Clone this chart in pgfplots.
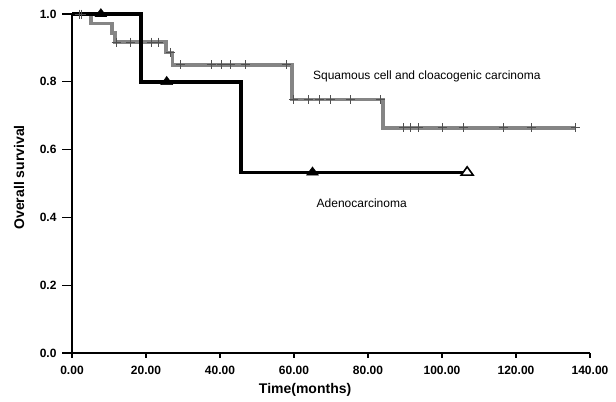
\documentclass[border=0pt]{standalone}
\usepackage{fontspec}
\setmainfont{Liberation Sans}
\usepackage{pgfplots}
\pgfplotsset{compat=1.18}

\definecolor{kmgray}{HTML}{858585}
\definecolor{censgray}{HTML}{505050}

\begin{document}
\begin{tikzpicture}
\begin{axis}[
  scale only axis, width=518pt, height=339pt,
  xmin=0, xmax=140, ymin=0, ymax=1,
  axis lines=left, axis line style={line width=1.3pt,-},
  xtick={0,20,...,140}, ytick={0,0.2,...,1.0},
  tick align=outside, major tick length=10pt,
  tick style={line width=1.3pt,black},
  x tick style={/pgfplots/major tick length=5pt},
  /pgf/number format/assume math mode=true,
  tick label style={font=\fontsize{12}{14}\selectfont\bfseries},
  xticklabel style={/pgf/number format/.cd,fixed,fixed zerofill,precision=2},
  yticklabel style={xshift=-2pt,/pgf/number format/.cd,fixed,fixed zerofill,precision=1},
  xlabel={Time(months)}, ylabel={Overall survival},
  label style={font=\fontsize{14}{16}\selectfont\bfseries},
  xlabel style={at={(axis description cs:0.45,-0.109)},anchor=center},
  ylabel style={at={(axis description cs:-0.1023,0.518)},anchor=center,rotate=0},
  clip=false,
]
% squamous cell and cloacogenic carcinoma
\addplot[const plot, kmgray, line width=3.4pt] coordinates {
  (0,1) (5.1,0.972) (10.8,0.944) (11.6,0.917) (25.4,0.887) (27.2,0.850)
  (59.5,0.747) (84.1,0.664) (136.2,0.664)};
\addplot[only marks, mark=+, mark size=4.5pt, censgray, line width=1pt] coordinates {
  (1.9,1) (2.7,1) (11.9,0.917) (15.7,0.917) (21.5,0.917) (23.5,0.917)
  (26.5,0.887) (29.4,0.850) (37.7,0.850) (40.3,0.850) (42.9,0.850) (46.8,0.850)
  (58.0,0.850) (59.8,0.747) (63.9,0.747) (66.8,0.747) (69.9,0.747) (75.4,0.747)
  (83.5,0.747) (89.7,0.664) (91.4,0.664) (93.6,0.664) (100.1,0.664)
  (105.8,0.664) (116.6,0.664) (124.1,0.664) (136.2,0.664)};
% adenocarcinoma
\addplot[const plot, black, line width=3.4pt] coordinates {
  (0,1) (18.6,0.8) (45.7,0.533) (106.8,0.533)};
\addplot[only marks, mark=triangle*, mark size=5.5pt, black,
  mark options={xscale=1.25}] coordinates {
  (7.8,1) (25.6,0.8) (65.0,0.533)};
\addplot[only marks, mark=triangle*, mark size=5.5pt, black,
  mark options={xscale=1.25, fill=white, line width=1.6pt}] coordinates {
  (106.8,0.533)};
\node[font=\fontsize{12}{14}\selectfont] at (axis cs:95.9,0.817)
  {Squamous cell and cloacogenic carcinoma};
\node[font=\fontsize{12}{14}\selectfont] at (axis cs:78.3,0.4425) {Adenocarcinoma};
\coordinate (BL) at (axis description cs:-0.139,-0.1416);
\coordinate (TR) at (axis description cs:1.0502,1.0413);
\end{axis}
\pgfresetboundingbox
\path (BL) rectangle (TR);
\end{tikzpicture}
\end{document}
